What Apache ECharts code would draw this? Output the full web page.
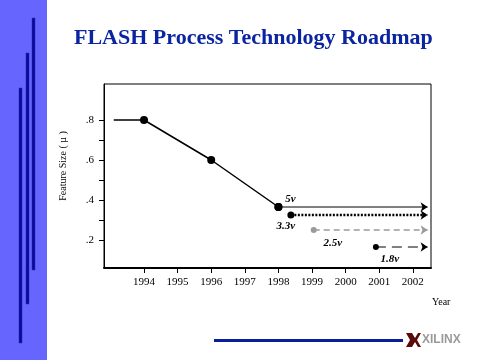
<!DOCTYPE html>
<html><head><meta charset="utf-8">
<script src="https://cdn.jsdelivr.net/npm/echarts@6/dist/echarts.min.js"></script>
<style>html,body{margin:0;padding:0;background:#fff}#c{width:480px;height:360px}</style>
</head><body><div id="c"></div>
<script>
// ---- data ----
const yearTicks = [1994, 1995, 1996, 1997, 1998, 1999, 2000, 2001, 2002];
const sizeTicks = [0.2, 0.3, 0.4, 0.5, 0.6, 0.7, 0.8];
const sizeLabels = [0.2, 0.4, 0.6, 0.8];
const roadmapX = [1993.1, 1994, 1996, 1998];
const roadmapY = [0.8, 0.8, 0.6, 0.365];
const voltageNames = ['5v', '3.3v', '2.5v', '1.8v'];
const voltageStartX = [1998, 1998.37, 1999.05, 2000.9];
const voltageY = [0.365, 0.325, 0.25, 0.165];
const arrowEndX = 2002.44;

// ---- styling (not data) ----
const SERIF = '"Liberation Serif","Times New Roman",serif';
const voltStyles = [
  {color: '#000', type: 'solid', width: 1, dot: 8, lab: [12, -8]},
  {color: '#000', type: [2, 1.5], width: 2.5, dot: 7, lab: [-5, 11]},
  {color: '#9a9a9a', type: [6, 4], width: 1.5, dot: 6, lab: [19, 13]},
  {color: '#000', type: [10, 6], width: 1, dot: 6, lab: [14, 12]}
];

const series = [{
  type: 'line',
  name: 'roadmap',
  data: roadmapX.map((x, i) => ({value: [x, roadmapY[i]], symbol: i === 0 ? 'none' : 'circle'})),
  symbolSize: 8,
  itemStyle: {color: '#000'},
  lineStyle: {color: '#000', width: 1.5},
  z: 3
}];
voltageNames.forEach((nm, i) => {
  const s = voltStyles[i];
  series.push({
    type: 'line',
    name: nm,
    data: [
      {value: [voltageStartX[i], voltageY[i]], symbol: 'circle', symbolSize: s.dot,
       label: {show: true, position: 'inside', offset: s.lab, formatter: nm,
               fontFamily: SERIF, fontStyle: 'italic', fontWeight: 'bold', fontSize: 11, color: '#000'}},
      {value: [arrowEndX, voltageY[i]], symbol: 'arrow', symbolSize: [7, 7], symbolRotate: -90}
    ],
    itemStyle: {color: s.color},
    lineStyle: {color: s.color, type: s.type, width: s.width},
    z: 4
  });
});

const chart = echarts.init(document.getElementById('c'), null, {renderer: 'canvas'});
chart.setOption({
  animation: false,
  backgroundColor: '#fff',
  title: {
    text: 'FLASH Process Technology Roadmap', left: 69, top: 22,
    textStyle: {fontFamily: SERIF, fontWeight: 'bold', fontSize: 22, color: '#0B24A0'}
  },
  grid: {left: 104, right: 49, top: 84, bottom: 92, show: true, borderColor: '#000', borderWidth: 1},
  xAxis: {
    type: 'value', min: 1992.81, max: 2002.54,
    splitLine: {show: false},
    axisLine: {lineStyle: {color: '#000', width: 2}},
    axisTick: {customValues: yearTicks, length: 5, lineStyle: {color: '#000'}},
    axisLabel: {customValues: yearTicks, margin: 9, fontFamily: SERIF, fontSize: 11, color: '#000',
      formatter: v => String(Math.round(v))}
  },
  yAxis: {
    type: 'value', min: 0.06, max: 0.98,
    splitLine: {show: false},
    axisLine: {show: true, lineStyle: {color: '#000', width: 1}},
    axisTick: {show: true, customValues: sizeTicks, length: 5, lineStyle: {color: '#000'}},
    axisLabel: {customValues: sizeLabels, margin: 10, fontFamily: SERIF, fontSize: 11, color: '#000',
      formatter: v => String(+v.toFixed(1)).replace(/^0/, '')},
    name: 'Feature Size ( µ )', nameLocation: 'middle', nameGap: 36, nameRotate: 90,
    nameTextStyle: {fontFamily: SERIF, fontSize: 10, color: '#000', padding: [0, 0, 0, 20]}
  },
  series: series,
  graphic: [
    {type: 'rect', shape: {x: 0, y: 0, width: 47, height: 360}, style: {fill: '#6666FF'}, z: -10},
    {type: 'rect', shape: {x: 19, y: 88, width: 3, height: 255}, style: {fill: '#0A0A99', stroke: '#2828b0', lineWidth: 0.5}, z: -9},
    {type: 'rect', shape: {x: 26, y: 53, width: 3, height: 251}, style: {fill: '#0A0A99', stroke: '#2828b0', lineWidth: 0.5}, z: -9},
    {type: 'rect', shape: {x: 32, y: 18, width: 3, height: 252}, style: {fill: '#0A0A99', stroke: '#2828b0', lineWidth: 0.5}, z: -9},
    {type: 'rect', shape: {x: 214, y: 339, width: 189, height: 3}, style: {fill: '#0B1E9A'}},
    {type: 'polygon', shape: {points: [[406,333],[412,333],[415,338],[418,333],[421,333],[417,340],[421,347],[418,347],[415,342],[412,347],[406,347],[410,340]]},
     style: {fill: '#5A0A0A'}},
    {type: 'text', left: 422, top: 334, style: {text: 'XILINX', fontFamily: '"Liberation Sans Narrow","Liberation Sans",Arial,sans-serif', fontWeight: 'bold', fontSize: 12, fill: '#9a9a9a'}},
    {type: 'text', left: 432, top: 297, style: {text: 'Year', fontFamily: SERIF, fontSize: 10, fill: '#000'}}
  ]
});
</script></body></html>
